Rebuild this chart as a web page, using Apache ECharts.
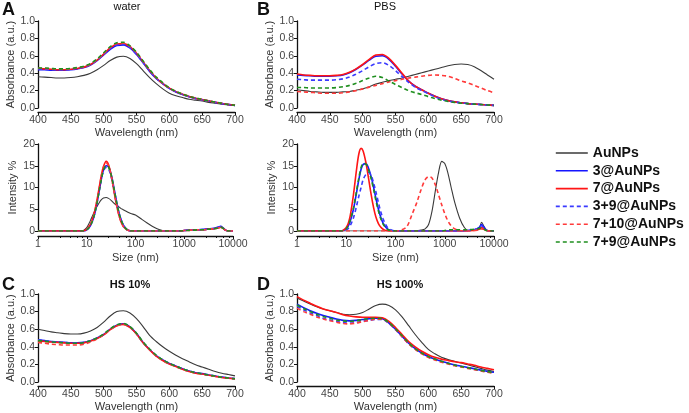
<!DOCTYPE html>
<html>
<head>
<meta charset="utf-8">
<script src="https://cdn.jsdelivr.net/npm/echarts@6/dist/echarts.min.js"></script>
<style>html,body{margin:0;padding:0;background:#fff;}#c{width:689px;height:413px;}</style>
</head>
<body>
<div id="c"></div>
<script>
// ---------- DATA ----------
const names = ['AuNPs', '3@AuNPs', '7@AuNPs', '3+9@AuNPs', '7+10@AuNPs', '7+9@AuNPs'];
const wl = [400,410,420,430,440,450,460,470,480,490,500,510,520,530,540,550,560,570,580,590,600,610,620,630,640,650,660,670,680,690,700];

// water (A, top)
const waterAuNPs = [0.36,0.355,0.35,0.345,0.345,0.35,0.36,0.375,0.40,0.44,0.49,0.545,0.585,0.595,0.57,0.51,0.43,0.35,0.28,0.22,0.17,0.14,0.12,0.10,0.09,0.08,0.065,0.055,0.045,0.035,0.028];
const water3     = [0.44,0.44,0.435,0.435,0.435,0.44,0.45,0.465,0.495,0.545,0.61,0.675,0.72,0.725,0.69,0.615,0.52,0.42,0.34,0.28,0.225,0.185,0.155,0.13,0.11,0.095,0.08,0.065,0.05,0.04,0.03];
const water7     = [0.45,0.45,0.445,0.44,0.44,0.445,0.455,0.47,0.50,0.55,0.62,0.69,0.735,0.74,0.705,0.63,0.53,0.43,0.345,0.28,0.228,0.188,0.157,0.132,0.112,0.096,0.08,0.066,0.052,0.04,0.03];
const water39    = [0.45,0.445,0.44,0.44,0.44,0.445,0.455,0.47,0.50,0.55,0.615,0.685,0.725,0.73,0.695,0.62,0.525,0.425,0.34,0.28,0.226,0.186,0.156,0.131,0.111,0.095,0.08,0.065,0.05,0.04,0.03];
const water710   = [0.46,0.455,0.45,0.445,0.445,0.45,0.46,0.475,0.505,0.555,0.625,0.695,0.74,0.745,0.71,0.635,0.535,0.435,0.35,0.285,0.23,0.19,0.16,0.134,0.114,0.098,0.082,0.067,0.053,0.041,0.031];
const water79    = [0.46,0.46,0.455,0.45,0.45,0.455,0.465,0.48,0.51,0.565,0.635,0.705,0.75,0.755,0.715,0.64,0.54,0.44,0.355,0.29,0.232,0.192,0.16,0.135,0.115,0.098,0.082,0.067,0.053,0.041,0.031];

// PBS (B, top)
const pbsAuNPs = [0.21,0.20,0.19,0.185,0.18,0.18,0.18,0.185,0.19,0.205,0.22,0.245,0.275,0.295,0.315,0.33,0.345,0.365,0.385,0.405,0.425,0.445,0.465,0.485,0.50,0.505,0.50,0.475,0.43,0.38,0.33];
const pbs3     = [0.38,0.375,0.37,0.365,0.365,0.365,0.37,0.38,0.405,0.445,0.495,0.55,0.595,0.60,0.56,0.48,0.39,0.31,0.25,0.21,0.17,0.135,0.105,0.085,0.07,0.06,0.05,0.045,0.04,0.035,0.03];
const pbs7     = [0.39,0.38,0.375,0.37,0.37,0.37,0.375,0.385,0.41,0.45,0.50,0.56,0.61,0.615,0.57,0.49,0.40,0.31,0.25,0.21,0.17,0.135,0.105,0.085,0.07,0.06,0.05,0.045,0.04,0.035,0.03];
const pbs39    = [0.33,0.325,0.32,0.32,0.32,0.32,0.325,0.335,0.355,0.39,0.43,0.475,0.51,0.52,0.49,0.43,0.36,0.295,0.24,0.20,0.165,0.13,0.10,0.082,0.068,0.058,0.05,0.044,0.039,0.034,0.03];
const pbs710   = [0.19,0.185,0.18,0.175,0.17,0.17,0.17,0.175,0.185,0.20,0.22,0.24,0.26,0.28,0.30,0.315,0.33,0.345,0.355,0.365,0.375,0.38,0.375,0.365,0.34,0.31,0.29,0.26,0.23,0.20,0.175];
const pbs79    = [0.235,0.235,0.23,0.23,0.23,0.23,0.235,0.245,0.26,0.285,0.315,0.345,0.365,0.35,0.31,0.27,0.235,0.20,0.175,0.155,0.13,0.11,0.09,0.075,0.065,0.055,0.05,0.045,0.04,0.035,0.03];

// HS 10% (C)
const hs10AuNPs = [0.60,0.585,0.57,0.56,0.55,0.545,0.545,0.555,0.58,0.62,0.68,0.75,0.80,0.81,0.785,0.72,0.63,0.53,0.46,0.40,0.35,0.305,0.265,0.23,0.195,0.17,0.145,0.12,0.10,0.085,0.07];
const hs10_3    = [0.48,0.47,0.46,0.455,0.45,0.445,0.445,0.45,0.47,0.50,0.54,0.60,0.645,0.66,0.625,0.55,0.45,0.37,0.30,0.25,0.21,0.18,0.15,0.125,0.105,0.095,0.08,0.068,0.055,0.046,0.038];
const hs10_7    = [0.47,0.46,0.455,0.45,0.445,0.44,0.44,0.445,0.465,0.495,0.535,0.595,0.64,0.655,0.62,0.545,0.445,0.365,0.295,0.245,0.205,0.175,0.145,0.12,0.10,0.09,0.076,0.064,0.052,0.044,0.036];
const hs10_39   = [0.48,0.47,0.46,0.455,0.45,0.445,0.445,0.45,0.47,0.50,0.54,0.60,0.645,0.66,0.625,0.55,0.45,0.37,0.30,0.25,0.21,0.18,0.15,0.125,0.105,0.094,0.079,0.067,0.054,0.045,0.037];
const hs10_710  = [0.45,0.44,0.43,0.425,0.42,0.42,0.42,0.43,0.455,0.49,0.535,0.595,0.64,0.655,0.62,0.545,0.445,0.365,0.295,0.245,0.205,0.175,0.145,0.12,0.10,0.09,0.076,0.064,0.052,0.044,0.036];
const hs10_79   = [0.47,0.465,0.455,0.45,0.445,0.44,0.44,0.45,0.47,0.50,0.545,0.605,0.65,0.665,0.63,0.555,0.455,0.375,0.305,0.252,0.212,0.18,0.15,0.125,0.105,0.094,0.079,0.067,0.054,0.045,0.037];

// HS 100% (D)
const hs100AuNPs = [0.955,0.92,0.885,0.855,0.83,0.81,0.79,0.77,0.765,0.77,0.79,0.83,0.87,0.885,0.87,0.82,0.74,0.64,0.54,0.45,0.37,0.32,0.28,0.255,0.235,0.215,0.195,0.175,0.155,0.135,0.12];
const hs100_3    = [0.885,0.845,0.81,0.78,0.755,0.735,0.715,0.70,0.695,0.70,0.71,0.72,0.725,0.72,0.67,0.60,0.52,0.44,0.38,0.33,0.29,0.26,0.235,0.215,0.195,0.18,0.165,0.15,0.135,0.12,0.11];
const hs100_7    = [0.97,0.93,0.895,0.86,0.83,0.81,0.79,0.765,0.75,0.74,0.735,0.735,0.735,0.73,0.69,0.62,0.54,0.46,0.40,0.35,0.31,0.28,0.26,0.245,0.23,0.22,0.205,0.19,0.17,0.155,0.14];
const hs100_39   = [0.86,0.82,0.785,0.755,0.725,0.705,0.69,0.675,0.67,0.675,0.69,0.70,0.71,0.71,0.665,0.595,0.515,0.435,0.375,0.325,0.285,0.255,0.23,0.21,0.19,0.175,0.16,0.145,0.13,0.115,0.105];
const hs100_710  = [0.84,0.80,0.77,0.74,0.715,0.695,0.68,0.665,0.66,0.67,0.685,0.70,0.715,0.715,0.67,0.60,0.515,0.435,0.37,0.32,0.28,0.25,0.225,0.205,0.185,0.17,0.155,0.14,0.125,0.11,0.10];
const hs100_79   = [0.875,0.835,0.80,0.77,0.745,0.725,0.705,0.695,0.69,0.695,0.71,0.72,0.725,0.72,0.675,0.605,0.525,0.445,0.38,0.33,0.29,0.26,0.235,0.212,0.192,0.177,0.162,0.147,0.132,0.118,0.108];

// DLS sizes (nm) shared by A and B lower panels
const sizes = [1,5,8,9,10,11,12,14,16,18,20,22,25,28,32,36,40,45,50,56,63,70,80,100,130,170,220,270,330,400,470,550,650,750,870,1000,1150,1350,1600,2000,2500,3000,4000,5000,5600,6300,7000,8000,10000];

// water DLS
const dlsWaterAuNPs = [0,0,0,0.3,0.8,1.6,2.5,4.2,5.5,6.5,7.2,7.6,7.7,7.5,7.0,6.4,6.0,5.6,5.2,4.9,4.6,4.3,4.0,3.7,2.8,1.9,1.1,0.6,0.2,0,0,0,0,0,0,0.1,0.1,0.2,0.2,0.3,0.3,0.4,0.5,0.7,0.9,0.6,0.2,0,0];
const dlsWater3     = [0,0,0,0,0.3,0.7,1.3,3.2,6.0,9.2,12.0,14.0,15.0,14.8,12.8,10.0,7.3,4.6,2.8,1.4,0.6,0.2,0,0,0,0,0,0,0,0,0,0,0,0,0,0.1,0.2,0.2,0.3,0.3,0.4,0.5,0.6,0.9,1.1,0.7,0.2,0,0];
const dlsWater7     = [0,0,0,0.1,0.45,1.0,1.6,3.8,6.8,10.0,12.9,14.8,16.0,15.2,12.5,9.3,6.5,3.9,2.2,1.1,0.5,0.2,0,0,0,0,0,0,0,0,0,0,0,0,0,0.1,0.1,0.2,0.2,0.3,0.3,0.4,0.5,0.7,0.9,0.6,0.2,0,0];
const dlsWater39    = [0,0,0,0,0.3,0.8,1.4,3.4,6.2,9.3,12.0,13.8,14.6,14.3,12.3,9.5,6.9,4.3,2.6,1.3,0.5,0.2,0,0,0,0,0,0,0,0,0,0,0,0,0,0.1,0.1,0.2,0.2,0.3,0.3,0.4,0.5,0.8,1.0,0.6,0.2,0,0];
const dlsWater710   = [0,0,0,0.1,0.4,0.9,1.5,3.6,6.6,9.8,12.7,14.6,15.6,15.0,12.5,9.4,6.6,4.0,2.3,1.1,0.5,0.2,0,0,0,0,0,0,0,0,0,0,0,0,0,0.1,0.1,0.2,0.2,0.3,0.3,0.4,0.5,0.7,0.8,0.5,0.2,0,0];
const dlsWater79    = [0,0,0,0,0.3,0.7,1.3,3.3,6.1,9.2,12.0,14.0,15.0,14.7,12.7,9.9,7.2,4.5,2.7,1.4,0.6,0.2,0,0,0,0,0,0,0,0,0,0,0,0,0,0.1,0.1,0.2,0.2,0.3,0.3,0.4,0.5,0.7,0.9,0.6,0.2,0,0];

// PBS DLS
const dlsPbsAuNPs = [0,0,0,0,0,0,0,0,0,0,0,0,0,0,0,0,0,0,0,0,0,0,0,0,0,0,0,0.1,0.2,0.5,1.5,4.5,9.5,13.5,16.0,15.5,13.5,10.0,6.5,3.0,0.8,0.1,0.1,0.6,2.0,1.0,0.2,0,0];
const dlsPbs3     = [0,0,0,0.2,0.5,1.2,2.2,5.0,8.5,11.8,14.2,15.3,15.5,14.6,12.5,10.0,7.5,5.0,3.2,1.8,0.9,0.4,0.1,0,0,0,0,0,0,0,0,0,0,0,0,0,0,0,0,0,0,0.1,0.3,0.8,1.5,0.8,0.2,0,0];
const dlsPbs7     = [0,0,0,0.3,0.8,1.8,3.4,8.3,13.7,17.7,19.0,18.4,15.8,12.5,8.4,5.3,3.2,1.7,0.9,0.4,0.1,0,0,0,0,0,0,0,0,0,0,0,0,0,0,0,0,0,0,0,0,0,0.1,0.4,0.8,0.4,0.1,0,0];
const dlsPbs39    = [0,0,0,0,0.2,0.6,1.2,3.0,5.5,8.0,10.0,11.8,13.0,13.5,12.8,11.0,9.0,6.5,4.5,2.8,1.5,0.7,0.3,0,0,0,0,0,0,0,0,0,0,0,0,0,0,0,0,0,0,0.1,0.3,0.7,1.2,0.6,0.2,0,0];
const dlsPbs710   = [0,0,0,0,0,0,0,0,0,0,0,0,0,0,0,0,0,0,0,0,0,0,0,0,0.2,1.0,4.0,6.5,9.5,11.8,12.5,12.2,10.5,8.3,6.0,4.0,2.4,1.2,0.5,0.1,0,0,0.1,0.3,0.5,0.3,0.1,0,0];
const dlsPbs79    = [0,0,0,0.2,0.5,1.3,2.4,5.3,8.9,12.2,14.6,15.5,15.4,14.3,12.0,9.5,7.0,4.6,2.9,1.6,0.8,0.3,0.1,0,0,0,0,0,0,0,0,0,0,0,0,0.1,0.2,0.3,0.3,0.3,0.3,0.3,0.4,0.6,0.7,0.4,0.1,0,0];

// tick labels
const absTicks = [0, 0.2, 0.4, 0.6, 0.8, 1.0];
const wlTicks = [400, 450, 500, 550, 600, 650, 700];
const intTicks = [0, 5, 10, 15, 20];
const sizeTicks = [1, 10, 100, 1000, 10000];

// ---------- STYLE ----------
const styles = [
  {color: '#3a3a3a', width: 1.1, type: 'solid'},
  {color: '#1515ff', width: 1.6, type: 'solid'},
  {color: '#ff1515', width: 1.6, type: 'solid'},
  {color: '#3a3aff', width: 1.6, type: [4, 3]},
  {color: '#ff3a3a', width: 1.6, type: [4, 3]},
  {color: '#1f8f1f', width: 1.6, type: [4, 3]}
];
const FONT = 'Liberation Sans, Arial, sans-serif';

const grids = [
  {left: 38, top: 21, width: 197, height: 87},   // A top
  {left: 297, top: 21, width: 197, height: 87},  // B top
  {left: 38, top: 144, width: 195, height: 87},  // A bottom
  {left: 297, top: 144, width: 197, height: 87}, // B bottom
  {left: 38, top: 294, width: 197, height: 88},  // C
  {left: 297, top: 294, width: 197, height: 88}  // D
];

const axisCommon = {
  axisLine: {show: true, onZero: false, lineStyle: {color: '#111', width: 1.3}},
  axisTick: {show: true, inside: false, length: 3, lineStyle: {color: '#111', width: 1}},
  axisLabel: {color: '#444', fontSize: 10.5, fontFamily: FONT, margin: 3},
  splitLine: {show: false},
  nameLocation: 'middle',
  nameTextStyle: {color: '#333', fontSize: 11, fontFamily: FONT}
};

const xAxes = [], yAxes = [];
grids.forEach((g, i) => {
  const isDLS = (i === 2 || i === 3);
  if (isDLS) {
    xAxes.push(Object.assign({}, axisCommon, {
      gridIndex: i, type: 'log', logBase: 10, min: sizeTicks[0], max: sizeTicks[sizeTicks.length - 1],
      offset: 5, name: 'Size (nm)', nameGap: 16,
      minorTick: {show: true, splitNumber: 5, length: 2, lineStyle: {color: '#111'}},
      axisLabel: Object.assign({}, axisCommon.axisLabel, {formatter: v => String(Math.round(v))})
    }));
    yAxes.push(Object.assign({}, axisCommon, {
      gridIndex: i, type: 'value', min: intTicks[0], max: intTicks[intTicks.length - 1], interval: 5,
      name: 'Intensity %', nameGap: 20
    }));
  } else {
    xAxes.push(Object.assign({}, axisCommon, {
      gridIndex: i, type: 'value', min: wlTicks[0], max: wlTicks[wlTicks.length - 1], interval: 50,
      offset: 4, name: 'Wavelength (nm)', nameGap: 15
    }));
    yAxes.push(Object.assign({}, axisCommon, {
      gridIndex: i, type: 'value', min: absTicks[0], max: absTicks[absTicks.length - 1], interval: 0.2,
      name: 'Absorbance (a.u.)', nameGap: 22,
      axisLabel: Object.assign({}, axisCommon.axisLabel, {formatter: v => v.toFixed(1)})
    }));
  }
});

const panelData = [
  [wl, [waterAuNPs, water3, water7, water39, water710, water79]],
  [wl, [pbsAuNPs, pbs3, pbs7, pbs39, pbs710, pbs79]],
  [sizes, [dlsWaterAuNPs, dlsWater3, dlsWater7, dlsWater39, dlsWater710, dlsWater79]],
  [sizes, [dlsPbsAuNPs, dlsPbs3, dlsPbs7, dlsPbs39, dlsPbs710, dlsPbs79]],
  [wl, [hs10AuNPs, hs10_3, hs10_7, hs10_39, hs10_710, hs10_79]],
  [wl, [hs100AuNPs, hs100_3, hs100_7, hs100_39, hs100_710, hs100_79]]
];

const series = [];
panelData.forEach((p, gi) => {
  const xs = p[0];
  p[1].forEach((ys, si) => {
    series.push({
      name: names[si], type: 'line', xAxisIndex: gi, yAxisIndex: gi,
      data: xs.map((x, k) => [x, ys[k]]),
      showSymbol: false, symbol: 'none', smooth: 0.3, animation: false,
      lineStyle: {color: styles[si].color, width: styles[si].width, type: styles[si].type},
      itemStyle: {color: styles[si].color},
      z: 2 + si
    });
  });
});

const txt = (x, y, text, font, align) => ({
  type: 'text', x: x, y: y,
  style: {text: text, font: font, fill: '#111', textAlign: align || 'left', textVerticalAlign: 'middle'}
});

const hiddenSymbol = {color: 'rgba(0,0,0,0)', borderWidth: 0, borderColor: 'rgba(0,0,0,0)', opacity: 0};

const option = {
  backgroundColor: '#fff',
  animation: false,
  grid: grids,
  xAxis: xAxes,
  yAxis: yAxes,
  series: series,
  legend: {
    orient: 'vertical', left: 550, top: 141,
    itemWidth: 32, itemHeight: 14, itemGap: 3.8,
    itemStyle: hiddenSymbol,
    textStyle: {fontSize: 14, fontWeight: 'bold', fontFamily: FONT, color: '#111'},
    data: names.map((n, i) => ({
      name: n,
      itemStyle: hiddenSymbol,
      lineStyle: {color: styles[i].color, width: 1.6, type: styles[i].type}
    }))
  },
  graphic: [
    txt(2, 10, 'A', 'bold 18px ' + FONT),
    txt(257, 10, 'B', 'bold 18px ' + FONT),
    txt(2, 285, 'C', 'bold 18px ' + FONT),
    txt(257, 285, 'D', 'bold 18px ' + FONT),
    txt(127, 7, 'water', '11px ' + FONT, 'center'),
    txt(385, 7, 'PBS', '11px ' + FONT, 'center'),
    txt(130, 285, 'HS 10%', 'bold 11px ' + FONT, 'center'),
    txt(400, 285, 'HS 100%', 'bold 11px ' + FONT, 'center')
  ]
};

const chart = echarts.init(document.getElementById('c'), null, {renderer: 'canvas'});
chart.setOption(option);
</script>
</body>
</html>
